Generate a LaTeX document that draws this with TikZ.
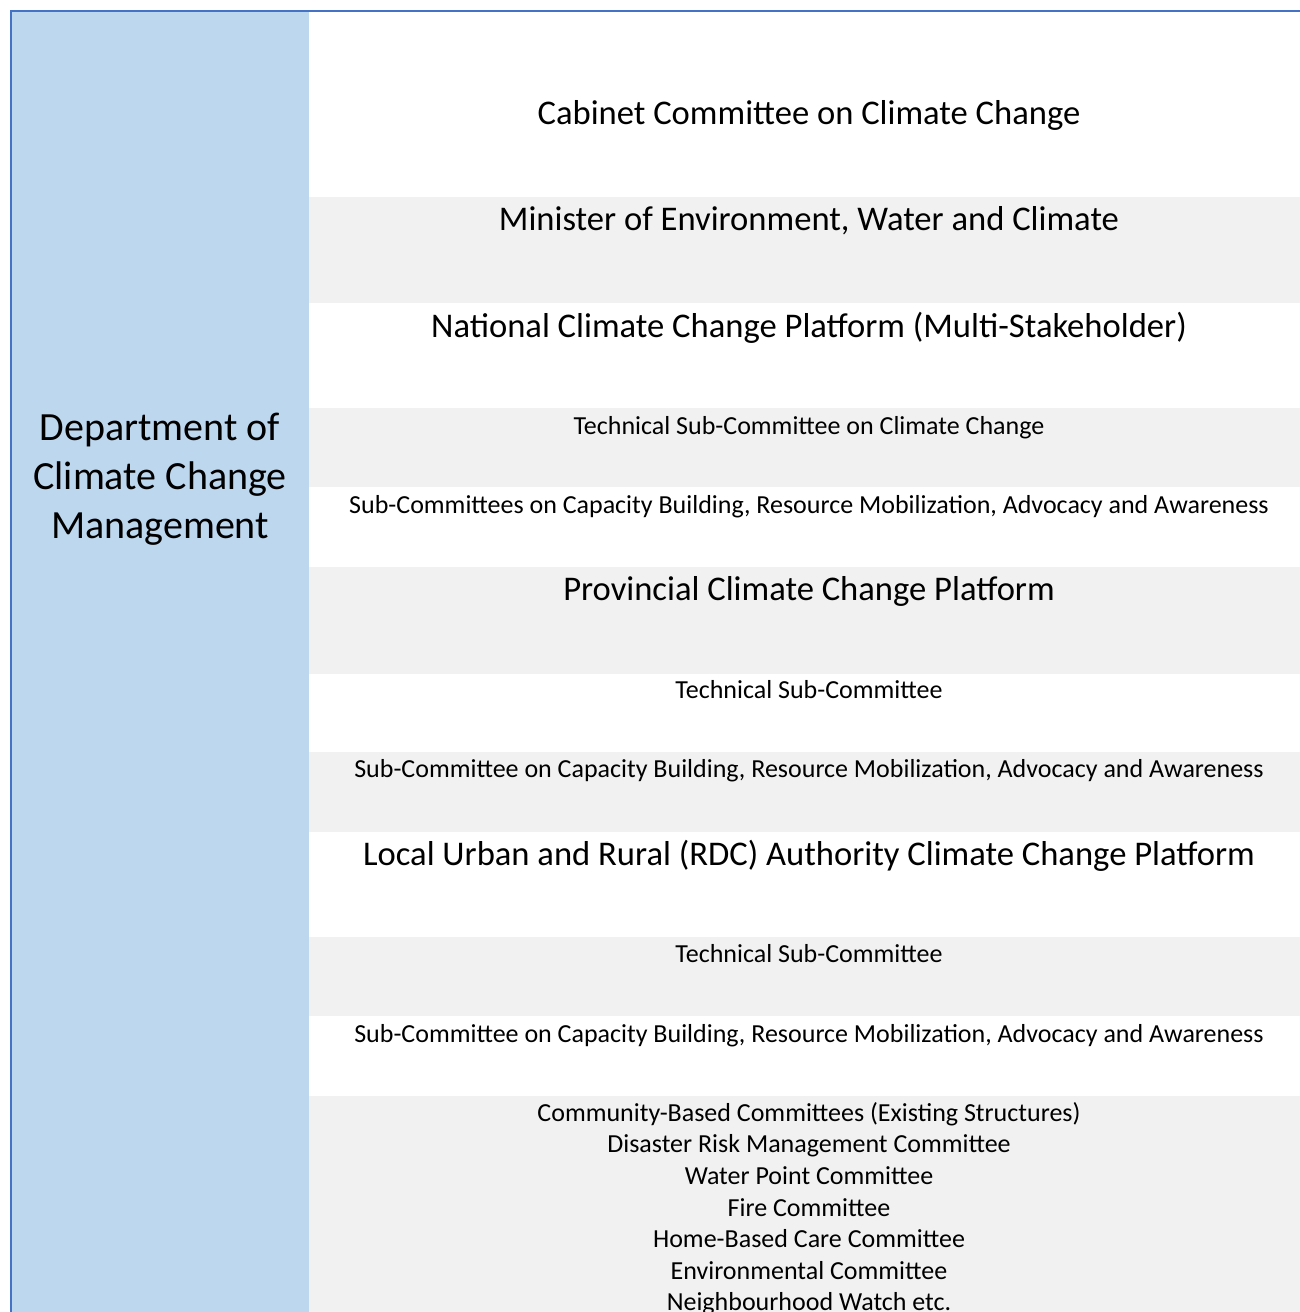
\documentclass[tikz,border=0pt]{standalone}
\usepackage{fontspec}
\setmainfont{Carlito}
\usepackage{tikz}

\definecolor{frameblue}{HTML}{4472C4}
\definecolor{sideblue}{HTML}{BDD7EE}
\definecolor{rowgray}{HTML}{F1F1F1}

\newcommand{\bigtxt}{\fontsize{34.6}{42}\selectfont}
\newcommand{\midtxt}{\fontsize{40}{49}\selectfont}
\newcommand{\smalltxt}{\fontsize{26}{31.6}\selectfont}

\begin{document}
\begin{tikzpicture}[x=1pt,y=-1pt]
        \tikzstyle{every node} = [rectangle, inner sep=0pt, text=black]
        \useasboundingbox (0,0) rectangle (1300,1312);
        \fill[white] (0,0) rectangle (1300,1312);
        % grey bands
        \foreach \top/\bot in {197/303, 408/487, 567/674, 752/832, 937/1016, 1096/1312}
            \fill[rowgray] (309,\top) rectangle (1300,\bot);
        \fill[sideblue] (11,11) rectangle (309,1312);
        \draw[frameblue, line width=2pt] (11,1312) -- (11,11) -- (1300,11);

        \node[align=center, font=\midtxt] (dept) at (160,479) {Department of\\Climate Change\\Management};

        \node[anchor=base, font=\bigtxt] (cab) at (809,124) {Cabinet Committee on Climate Change};
        \node[anchor=base, font=\bigtxt] (min) at (809,230) {Minister of Environment, Water and Climate};
        \node[anchor=base, font=\bigtxt] (nat) at (809,337) {National Climate Change Platform (Multi-Stakeholder)};
        \node[anchor=base, font=\smalltxt] (tsc) at (809,434) {Technical Sub-Committee on Climate Change};
        \node[anchor=base, font=\smalltxt] (subs) at (809,513) {Sub-Committees on Capacity Building, Resource Mobilization, Advocacy and Awareness};
        \node[anchor=base, font=\bigtxt] (prov) at (809,600) {Provincial Climate Change Platform};
        \node[anchor=base, font=\smalltxt] (ptsc) at (809,698) {Technical Sub-Committee};
        \node[anchor=base, font=\smalltxt] (psub) at (809,777) {Sub-Committee on Capacity Building, Resource Mobilization, Advocacy and Awareness};
        \node[anchor=base, font=\bigtxt] (loc) at (809,865) {Local Urban and Rural (RDC) Authority Climate Change Platform};
        \node[anchor=base, font=\smalltxt] (ltsc) at (809,962) {Technical Sub-Committee};
        \node[anchor=base, font=\smalltxt] (lsub) at (809,1042) {Sub-Committee on Capacity Building, Resource Mobilization, Advocacy and Awareness};
        \node[anchor=north, align=center, font=\smalltxt] (comm) at (809,1102) {Community-Based Committees (Existing Structures)\\Disaster Risk Management Committee\\Water Point Committee\\Fire Committee\\Home-Based Care Committee\\Environmental Committee\\Neighbourhood Watch etc.};
\end{tikzpicture}
\end{document}
